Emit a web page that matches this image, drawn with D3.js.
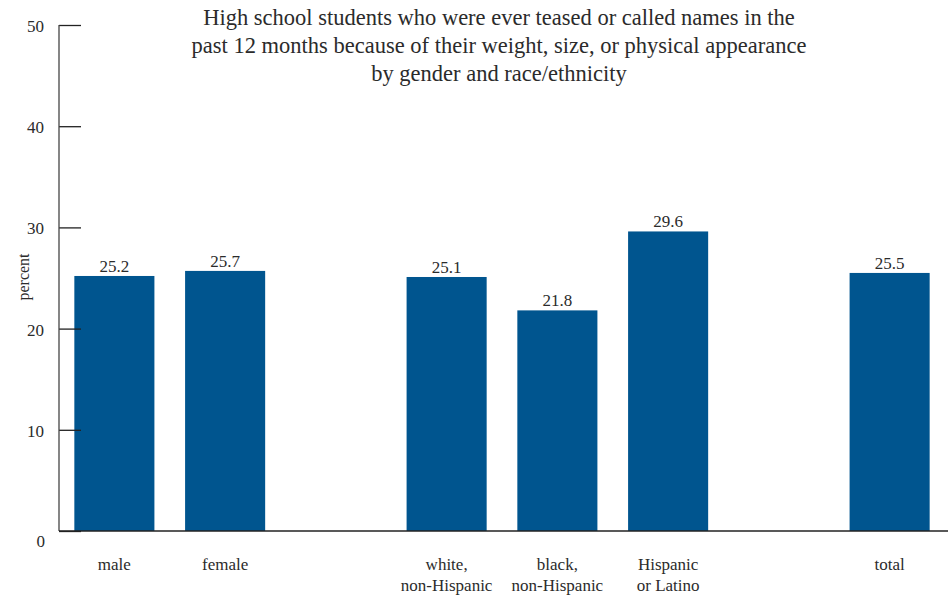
<!DOCTYPE html>
<html><head><meta charset="utf-8">
<script src="https://cdn.jsdelivr.net/npm/d3@7"></script>
<style>body{margin:0;background:#fff}svg{display:block}</style>
</head><body>
<svg id="c" width="948" height="598"></svg>
<script>
const slots = ["male","female","gap1","white","black","hispanic","gap2","total"];
const categories = ["male","female","white","black","hispanic","total"];
const labels = [["male"],["female"],["white,","non-Hispanic"],["black,","non-Hispanic"],["Hispanic","or Latino"],["total"]];
const values = [25.2,25.7,25.1,21.8,29.6,25.5];
const yTicks = [0,10,20,30,40,50];
const titleLines = ["High school students who were ever teased or called names in the","past 12 months because of their weight, size, or physical appearance","by gender and race/ethnicity"];

const FONT = "'Liberation Serif', serif";
const TXT = "#2b2b2b";
const svg = d3.select("#c");
const x = d3.scaleBand().domain(slots).range([59,945]).paddingInner(0.277).paddingOuter(0.1385);
const y = d3.scaleLinear().domain([0,50]).range([531,25]);

// bars
svg.selectAll("rect.bar").data(categories).join("rect").attr("class","bar")
  .attr("x", d=>x(d)).attr("width", x.bandwidth())
  .attr("y", (d,i)=>y(values[i])).attr("height",(d,i)=>y(0)-y(values[i]))
  .attr("fill","#00558F");

// value labels
svg.selectAll("text.val").data(categories).join("text").attr("class","val")
  .attr("x", d=>x(d)+x.bandwidth()/2).attr("y",(d,i)=>y(values[i])-4)
  .attr("text-anchor","middle").style("font-size","17px").style("font-family",FONT).attr("fill",TXT)
  .text((d,i)=>values[i].toFixed(1));

// y axis
const yAxis = d3.axisRight(y).tickValues(yTicks).tickSize(22).tickFormat("");
const yg = svg.append("g").attr("transform","translate(59,0)").call(yAxis);
yg.select(".domain").remove();
yg.selectAll(".tick line").attr("stroke","#222").attr("stroke-width",1.3);
svg.append("line").attr("x1",59).attr("x2",59).attr("y1",y(50)).attr("y2",y(0)).attr("stroke","#444").attr("stroke-width",1.3);
svg.selectAll("text.yl").data(yTicks).join("text").attr("class","yl")
  .attr("x",d=>d===0?45:44).attr("y",d=>y(d)+ (d===0?16:7)).attr("text-anchor","end")
  .style("font-size","17px").style("font-family",FONT).attr("fill",TXT)
  .text(d=>d);

// x axis line
svg.append("line").attr("x1",59).attr("x2",948).attr("y1",y(0)).attr("y2",y(0)).attr("stroke","#222").attr("stroke-width",1.3);

// x labels
const xl = svg.selectAll("text.xl").data(categories).join("text").attr("class","xl")
  .attr("text-anchor","middle").style("font-size","17px").style("font-family",FONT).attr("fill",TXT);
xl.each(function(d,i){
  const t = d3.select(this);
  labels[i].forEach((s,j)=>{
    t.append("tspan").attr("x", x(d)+x.bandwidth()/2).attr("y",570+j*21).text(s);
  });
});

// y title
svg.append("text").attr("transform","translate(29,277) rotate(-90)").attr("text-anchor","middle")
  .style("font-size","16px").style("font-family",FONT).attr("fill",TXT).text("percent");

// title
svg.selectAll("text.title").data(titleLines).join("text").attr("class","title")
  .attr("x",499).attr("y",(d,i)=>25+i*28).attr("text-anchor","middle")
  .style("font-size","22.5px").style("font-family",FONT).attr("fill",TXT)
  .text(d=>d);
</script>
</body></html>
